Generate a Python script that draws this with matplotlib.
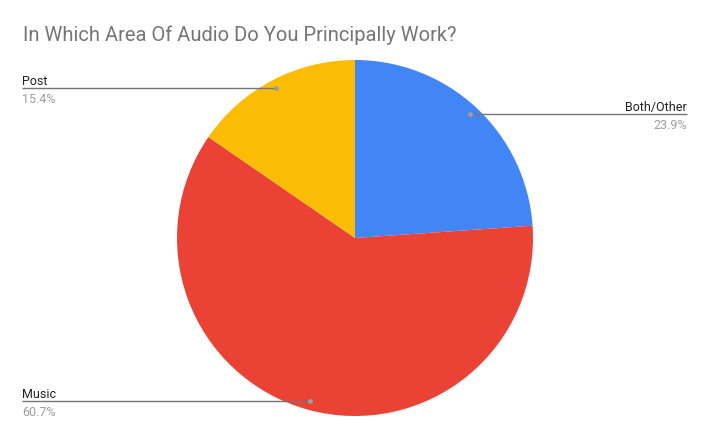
import matplotlib
matplotlib.use("Agg")
import matplotlib.pyplot as plt
import numpy as np

categories = ["Both/Other", "Music", "Post"]
values = [23.9, 60.7, 15.4]
colors = ["#4285F4", "#EA4335", "#FBBC04"]
title = "In Which Area Of Audio Do You Principally Work?"

W, H = 709, 439
fig = plt.figure(figsize=(W / 100, H / 100), dpi=100)
ax = fig.add_axes([0, 0, 1, 1])
ax.set_xlim(0, W)
ax.set_ylim(0, H)
ax.set_aspect("equal")
ax.axis("off")

cx, cy, R = 355, H - 239, 178
ax.pie(values, colors=colors, startangle=90, counterclock=False,
       center=(cx, cy), radius=R, frame=True,
       wedgeprops=dict(linewidth=0))
ax.set_xlim(0, W)
ax.set_ylim(0, H)
ax.axis("off")

fam = ["Roboto", "DejaVu Sans"]
fig.text(23 / W, 1 - 41 / H, title, fontsize=14.5, color="#757575",
         family=fam, ha="left", va="baseline")

total = sum(values)
start = 90.0
for name, v in zip(categories, values):
    span = 360 * v / total
    mid = np.deg2rad(start - span / 2)
    start -= span
    dx, dy = cx + 0.95 * R * np.cos(mid), cy + 0.95 * R * np.sin(mid)
    if np.cos(mid) >= 0:
        xe, ha = 687, "right"
    else:
        xe, ha = 22, "left"
    ax.plot([xe, dx], [dy, dy], color="#757575", lw=1.0, solid_capstyle="butt", zorder=5)
    ax.plot([dx], [dy], "o", color="#9e9e9e", ms=3.5, mec="none", zorder=6)
    ax.text(xe, dy + 4, name, fontsize=9, color="#222222", family=fam,
            ha=ha, va="baseline")
    ax.text(xe, dy - 4, f"{v:.1f}%", fontsize=9, color="#9e9e9e", family=fam,
            ha=ha, va="top")

fig.savefig("out.png", dpi=100)
